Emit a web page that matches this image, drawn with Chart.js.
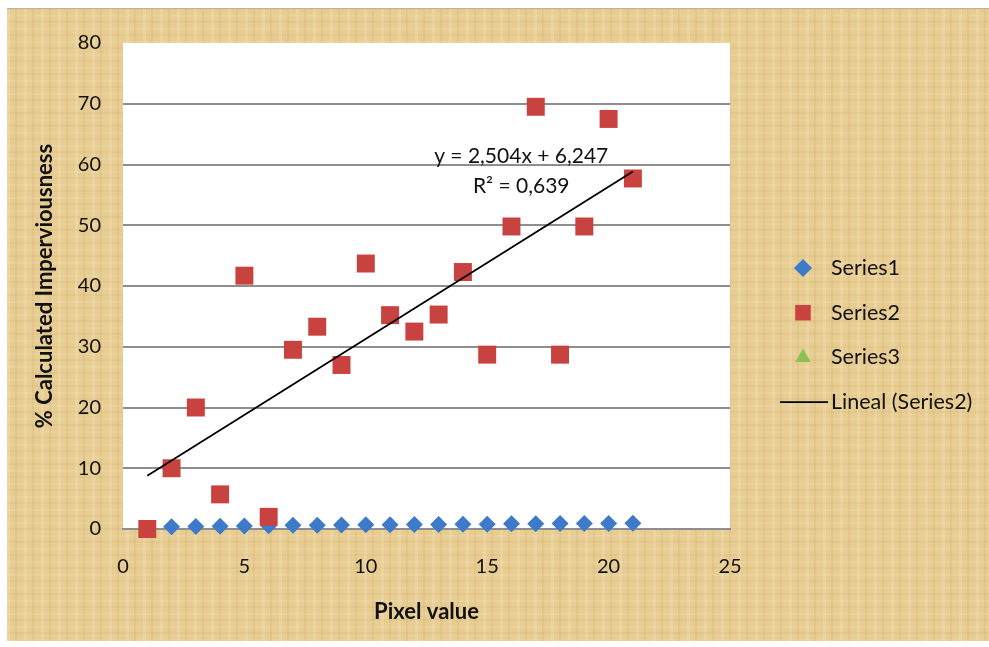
<!DOCTYPE html>
<html><head><meta charset="utf-8">
<script src="https://cdn.jsdelivr.net/npm/chart.js@4"></script>
<style>
html,body{margin:0;padding:0;background:#fff;width:989px;height:647px;overflow:hidden;}
#wrap{position:absolute;left:7px;top:8px;width:982px;height:632px;border-top:1px solid #b9b2a4;
 background-color:#e8cd93;
 background-image:
  repeating-linear-gradient(90deg, rgba(255,250,230,0.16) 0 3px, rgba(0,0,0,0) 3px 8px, rgba(170,125,50,0.10) 8px 10px, rgba(0,0,0,0) 10px 17px),
  repeating-linear-gradient(0deg, rgba(255,250,230,0.10) 0 2px, rgba(0,0,0,0) 2px 7px, rgba(160,115,40,0.07) 7px 9px, rgba(0,0,0,0) 9px 13px);}
canvas{display:block}
</style></head>
<body>
<div id="wrap"><canvas id="c" width="982" height="632"></canvas></div>
<script>
// ---- data ----
const series1X = [2,3,4,5,6,7,8,9,10,11,12,13,14,15,16,17,18,19,20,21];
const series1Y = [0.35,0.4,0.45,0.5,0.55,0.6,0.6,0.65,0.7,0.7,0.75,0.75,0.8,0.8,0.85,0.85,0.9,0.9,0.9,0.95];
const series2X = [1,2,3,4,5,6,7,8,9,10,11,12,13,14,15,16,17,18,19,20,21];
const series2Y = [0,10,20,5.7,41.7,2,29.5,33.3,27,43.7,35.2,32.5,35.3,42.3,28.7,49.8,69.5,28.7,49.8,67.5,57.7];
const series3X = [];
const series3Y = [];
const trendX = [1,21];
const trendY = [8.75,58.83];
const seriesLabels = ['Series1','Series2','Series3','Lineal (Series2)'];
const xTickValues = [0,5,10,15,20,25];
const yTickValues = [0,10,20,30,40,50,60,70,80];
const equationText = ['y = 2,504x + 6,247','R\u00B2 = 0,639'];
const xTitle = 'Pixel value';
const yTitle = '% Calculated Imperviousness';

const toPts = (xs, ys) => xs.map((x,i)=>({x:x, y:ys[i]}));
const FONT = 'Lato';
const TXT = '#111111';
const RED = '#c8423f', BLUE = '#3d7bca', GREEN = '#8cc152';

const plotBg = {
  id:'plotBg',
  beforeDraw(chart){
    const {ctx, chartArea:a} = chart;
    ctx.save(); ctx.fillStyle='#ffffff';
    ctx.fillRect(a.left, a.top, a.right-a.left, a.bottom-a.top);
    ctx.restore();
  }
};

const equation = {
  id:'equation',
  afterDatasetsDraw(chart){
    const {ctx, scales:{x,y}} = chart;
    ctx.save();
    ctx.font = '21px ' + FONT; ctx.fillStyle = TXT;
    ctx.textAlign='center'; ctx.textBaseline='middle';
    const cx = x.getPixelForValue(16.4);
    ctx.fillText(equationText[0], cx, y.getPixelForValue(61.4));
    ctx.fillText(equationText[1], cx, y.getPixelForValue(56.5));
    ctx.restore();
  }
};

const customLegend = {
  id:'customLegend',
  afterDraw(chart){
    const ctx = chart.ctx;
    const mx = 796, tx = 824, y0 = 259, dy = 44.7;
    ctx.save();
    ctx.font = '21.5px ' + FONT; ctx.textBaseline='middle'; ctx.textAlign='left';
    chart.data.datasets.forEach((ds,i)=>{
      const yy = y0 + i*dy;
      if (ds.showLine) {
        ctx.strokeStyle = ds.borderColor; ctx.lineWidth = ds.borderWidth;
        ctx.beginPath(); ctx.moveTo(773, yy); ctx.lineTo(821, yy); ctx.stroke();
      } else {
        ctx.fillStyle = ds.backgroundColor; ctx.strokeStyle = ds.backgroundColor;
        const r = ds.pointStyle==='rect' ? 11 : 9;
        Chart.helpers.drawPoint(ctx, {pointStyle: ds.pointStyle, radius:r, borderWidth:0, rotation:0}, mx, yy);
      }
      ctx.fillStyle = TXT;
      ctx.fillText(ds.label, tx, yy);
    });
    ctx.restore();
  }
};

new Chart(document.getElementById('c'), {
  type:'scatter',
  data:{ datasets:[
    {label:seriesLabels[0], data:toPts(series1X,series1Y), pointStyle:'rectRot', pointRadius:8.5, pointHoverRadius:8.5,
     backgroundColor:BLUE, borderColor:BLUE, borderWidth:0, order:4, clip:false},
    {label:seriesLabels[1], data:toPts(series2X,series2Y), pointStyle:'rect', pointRadius:12.7, pointHoverRadius:12.7,
     backgroundColor:RED, borderColor:RED, borderWidth:0, order:3, clip:false},
    {label:seriesLabels[2], data:toPts(series3X,series3Y), pointStyle:'triangle', pointRadius:9,
     backgroundColor:GREEN, borderColor:GREEN, borderWidth:0, order:2, clip:false},
    {label:seriesLabels[3], data:toPts(trendX,trendY), showLine:true, pointRadius:0, borderColor:'#000000',
     backgroundColor:'#000000', borderWidth:1.8, order:1, clip:false}
  ]},
  options:{
    responsive:false, animation:false, events:[],
    layout:{padding:{left:0, right:259, top:26, bottom:0}},
    plugins:{legend:{display:false}, tooltip:{enabled:false}},
    scales:{
      x:{ type:'linear', min:0, max:25,
        afterBuildTicks(s){ s.ticks = xTickValues.map(v=>({value:v})); },
        afterFit(s){ s.height = 112; },
        ticks:{ font:{family:FONT, size:20}, color:TXT, padding:26, maxRotation:0 },
        grid:{ display:false, drawTicks:false },
        border:{ display:true, color:'#8e8e8e', width:2 },
        title:{ display:true, text:xTitle, font:{family:FONT, size:22, weight:'bold'}, color:TXT, padding:{top:0,bottom:16} }
      },
      y:{ type:'linear', min:0, max:80,
        afterBuildTicks(s){ s.ticks = yTickValues.map(v=>({value:v})); },
        afterFit(s){ s.width = 116; },
        ticks:{ font:{family:FONT, size:20}, color:TXT, padding:22 },
        grid:{ color:(c)=> c.tick && c.tick.value===80 ? 'rgba(0,0,0,0)' : '#8e8e8e', lineWidth:2, drawTicks:false },
        border:{ display:false },
        title:{ display:true, text:yTitle, font:{family:FONT, size:22, weight:'bold'}, color:TXT, padding:{top:25,bottom:0} }
      }
    }
  },
  plugins:[plotBg, equation, customLegend]
});
</script>
</body></html>
